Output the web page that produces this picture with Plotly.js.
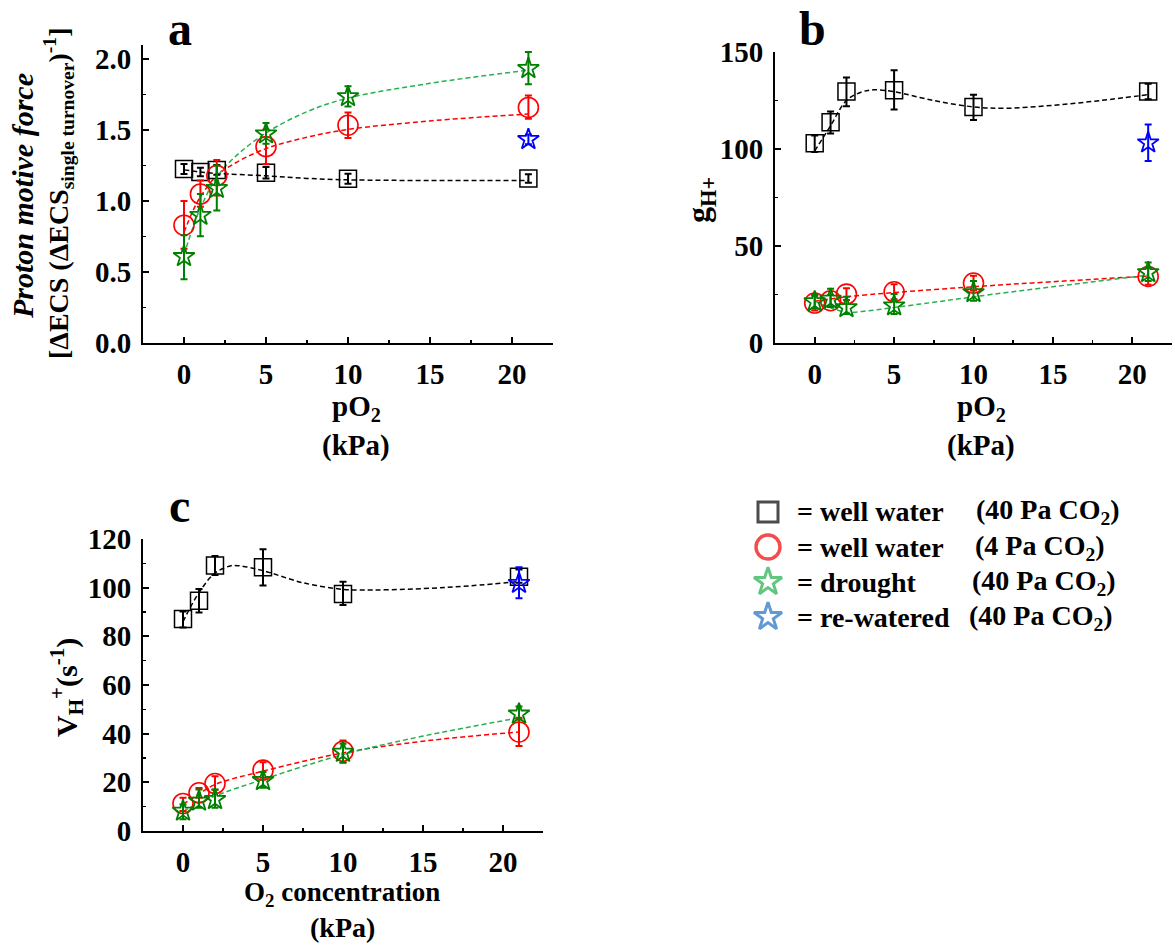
<!DOCTYPE html>
<html><head><meta charset="utf-8">
<script src="https://cdn.plot.ly/plotly-3.0.1.min.js"></script>
<style>html,body{margin:0;padding:0;background:#fff}</style>
</head><body><div id="chart" style="width:1175px;height:945px"></div>
<script>
// ---------- data ----------
const pO2 = [0, 1, 2, 5, 10, 21];
const pO2Rewatered = [21];

// panel a : proton motive force
const a_ww40 = [1.226, 1.205, 1.22, 1.20, 1.158, 1.16];
const a_ww40_ep = [0.035, 0.03, 0.035, 0.04, 0.035, 0.03];
const a_ww40_em = [0.035, 0.03, 0.035, 0.04, 0.035, 0.03];
const a_ww4 = [0.83, 1.05, 1.18, 1.384, 1.535, 1.66];
const a_ww4_ep = [0.17, 0.095, 0.11, 0.12, 0.09, 0.085];
const a_ww4_em = [0.165, 0.09, 0.14, 0.125, 0.09, 0.08];
const a_dr = [0.61, 0.90, 1.09, 1.474, 1.737, 1.935];
const a_dr_ep = [0.15, 0.15, 0.16, 0.076, 0.073, 0.115];
const a_dr_em = [0.16, 0.147, 0.156, 0.07, 0.07, 0.112];
const a_rw = [1.435];
const a_rw_e = [0.035];
// panel a fitted curves
const a_fit_ww40_x = [0, 1, 2, 5, 7.5, 10, 15, 21];
const a_fit_ww40_y = [1.22, 1.205, 1.195, 1.178, 1.16, 1.15, 1.145, 1.145];
const a_fit_ww4_x = [0, 0.5, 1, 2, 3, 5, 7.5, 10, 15, 21];
const a_fit_ww4_y = [0.78, 0.92, 1.03, 1.18, 1.26, 1.37, 1.45, 1.505, 1.565, 1.614];
const a_fit_dr_x = [0, 0.5, 1, 2, 3, 5, 7.5, 10, 15, 21];
const a_fit_dr_y = [0.62, 0.80, 0.95, 1.17, 1.30, 1.48, 1.63, 1.726, 1.83, 1.923];

// panel b : gH+
const b_ww40 = [102.9, 113.8, 129.6, 130.3, 121.7, 129.6];
const b_ww40_ep = [4, 5.5, 7.3, 10.3, 6.3, 4];
const b_ww40_em = [4.5, 5.8, 7.6, 10, 6.8, 4];
const b_ww4 = [20.6, 21.8, 25.2, 26.4, 30.9, 34.3];
const b_ww4_ep = [3.8, 3, 3, 3.9, 3.8, 4.3];
const b_ww4_em = [3.8, 3, 3, 3.9, 3.8, 4.3];
const b_dr = [21.3, 22.6, 18.3, 19.2, 26, 36.3];
const b_dr_ep = [3.5, 5.4, 5.5, 6, 6, 5.2];
const b_dr_em = [3.5, 4, 3.3, 4.2, 4.2, 4.3];
const b_rw = [103.2];
const b_rw_e = [9.4];
const b_fit_ww40_x = [0, 1, 2, 3, 3.7, 5, 7.5, 10, 12, 15, 18, 21];
const b_fit_ww40_y = [99, 112, 125, 129.5, 130.5, 129.5, 125, 121.7, 121, 122.5, 125, 128];
const b_fit_ww4_x = [0, 2, 5, 10, 15, 21];
const b_fit_ww4_y = [21.5, 23.8, 26, 29, 31.6, 34.5];
const b_fit_dr_x = [0, 1, 2, 3, 5, 7.5, 10, 15, 21];
const b_fit_dr_y = [21.5, 18.2, 15.8, 16.3, 18.3, 21, 23.8, 29, 35];

// panel c : vH+
const c_ww40 = [87.1, 94.6, 109.1, 108.4, 97.4, 104.5];
const c_ww40_ep = [3.1, 4.9, 3.9, 7.4, 5, 3];
const c_ww40_em = [3.5, 4.8, 3.9, 7.5, 4.5, 2.5];
const c_ww4 = [11.3, 15.7, 19.5, 25, 32.8, 40.7];
const c_ww4_ep = [2.4, 2, 3, 3.3, 4.4, 5.8];
const c_ww4_em = [3.1, 2, 2.5, 3.1, 4.8, 5.8];
const c_dr = [8.2, 12.3, 13, 20.8, 32.4, 48.1];
const c_dr_ep = [2.7, 4.8, 4.1, 3.4, 3.5, 3.1];
const c_dr_em = [3.4, 2.7, 3.4, 3, 4.1, 2.3];
const c_rw = [101.8];
const c_rw_ep = [6.6];
const c_rw_em = [6.1];
const c_fit_ww40_x = [0, 1, 2, 3, 3.5, 5, 7.5, 10, 11, 15, 18, 21];
const c_fit_ww40_y = [86, 98, 106, 109, 109, 107, 102, 99.3, 99, 99.6, 100.8, 102.5];
const c_fit_ww4_x = [0, 1, 2, 5, 10, 15, 21];
const c_fit_ww4_y = [10.9, 15.2, 19.1, 24.6, 32.1, 36.9, 40.7];
const c_fit_dr_x = [0, 1, 2, 5, 10, 15, 21];
const c_fit_dr_y = [8, 11.5, 14.4, 21.2, 31.4, 39, 46.5];

// axis ticks
const xTicks = [0, 5, 10, 15, 20];
const aTicks = [0, 0.5, 1.0, 1.5, 2.0];
const bTicks = [0, 50, 100, 150];
const cTicks = [0, 20, 40, 60, 80, 100, 120];

// legend
const legendLabels = ['= well water', '= well water', '= drought', '= re-watered'];
const legendConds = ['(40 Pa CO<sub>2</sub>)', '(4 Pa CO<sub>2</sub>)', '(40 Pa CO<sub>2</sub>)', '(40 Pa CO<sub>2</sub>)'];

// ---------- styling ----------
const W = 1175, H = 945;
const FONT = '"Liberation Serif", "Times New Roman", serif';
const BLACK = '#000000', RED = '#ff0000', GREEN = '#008000', GREENLINE = '#28b050', BLUE = '#0000ff';
function dx(p0, p1) { return [p0 / W, p1 / W]; }
function dy(top, bottom) { return [1 - bottom / H, 1 - top / H]; }

const styles = {
  ww40: {symbol: 'square-open', size: 17, color: BLACK, lw: 1.5},
  ww4: {symbol: 'circle-open', size: 20, color: RED, lw: 1.6},
  dr: {symbol: 'star-open', size: 16, color: GREEN, lw: 1.8},
  rw: {symbol: 'star-open', size: 16, color: BLUE, lw: 1.8}
};

function pts(x, y, ep, em, st, xa, ya) {
  return {
    type: 'scatter', mode: 'markers', x: x, y: y, xaxis: xa, yaxis: ya, showlegend: false,
    cliponaxis: false,
    marker: {symbol: st.symbol, size: st.size, color: st.color, line: {color: st.color, width: st.lw}},
    error_y: {type: 'data', symmetric: false, array: ep, arrayminus: em, color: st.color, thickness: 2, width: 3.5}
  };
}
function fit(x, y, color, xa, ya) {
  return {
    type: 'scatter', mode: 'lines', x: x, y: y, xaxis: xa, yaxis: ya, showlegend: false,
    line: {color: color, width: 1.5, dash: '5px,3px', shape: 'spline', smoothing: 1}
  };
}

const traces = [
  fit(a_fit_ww40_x, a_fit_ww40_y, BLACK, 'x', 'y'),
  fit(a_fit_ww4_x, a_fit_ww4_y, RED, 'x', 'y'),
  fit(a_fit_dr_x, a_fit_dr_y, GREENLINE, 'x', 'y'),
  pts(pO2, a_ww40, a_ww40_ep, a_ww40_em, styles.ww40, 'x', 'y'),
  pts(pO2, a_ww4, a_ww4_ep, a_ww4_em, styles.ww4, 'x', 'y'),
  pts(pO2, a_dr, a_dr_ep, a_dr_em, styles.dr, 'x', 'y'),
  pts(pO2Rewatered, a_rw, a_rw_e, a_rw_e, styles.rw, 'x', 'y'),

  fit(b_fit_ww40_x, b_fit_ww40_y, BLACK, 'x2', 'y2'),
  fit(b_fit_ww4_x, b_fit_ww4_y, RED, 'x2', 'y2'),
  fit(b_fit_dr_x, b_fit_dr_y, GREENLINE, 'x2', 'y2'),
  pts(pO2, b_ww40, b_ww40_ep, b_ww40_em, styles.ww40, 'x2', 'y2'),
  pts(pO2, b_ww4, b_ww4_ep, b_ww4_em, styles.ww4, 'x2', 'y2'),
  pts(pO2, b_dr, b_dr_ep, b_dr_em, styles.dr, 'x2', 'y2'),
  pts(pO2Rewatered, b_rw, b_rw_e, b_rw_e, styles.rw, 'x2', 'y2'),

  fit(c_fit_ww40_x, c_fit_ww40_y, BLACK, 'x3', 'y3'),
  fit(c_fit_ww4_x, c_fit_ww4_y, RED, 'x3', 'y3'),
  fit(c_fit_dr_x, c_fit_dr_y, GREENLINE, 'x3', 'y3'),
  pts(pO2, c_ww40, c_ww40_ep, c_ww40_em, styles.ww40, 'x3', 'y3'),
  pts(pO2, c_ww4, c_ww4_ep, c_ww4_em, styles.ww4, 'x3', 'y3'),
  pts(pO2, c_dr, c_dr_ep, c_dr_em, styles.dr, 'x3', 'y3'),
  pts(pO2Rewatered, c_rw, c_rw_ep, c_rw_em, styles.rw, 'x3', 'y3'),

  // legend symbols
  {
    type: 'scatter', mode: 'markers', xaxis: 'x4', yaxis: 'y4', showlegend: false, cliponaxis: false,
    x: legendLabels.map(() => 0), y: legendLabels.map((_, i) => i),
    marker: {
      symbol: ['square-open', 'circle-open', 'star-open', 'star-open'],
      size: [20, 24, 21, 21],
      color: ['#000000', '#f00000', '#1fae4c', '#1e6fc0'],
      line: {width: [3, 3.4, 3, 3], color: ['#000000', '#f00000', '#1fae4c', '#1e6fc0']}
    }
  }
];

const tickFont = {family: FONT, size: 29, color: '#000', weight: 'bold'};
function xAxis(domain, anchor) {
  return {
    domain: domain, anchor: anchor, range: [-2.5, 22.5], tickvals: xTicks, ticktext: xTicks.map(String),
    showgrid: false, zeroline: false, showline: true, linecolor: '#000', linewidth: 2,
    ticks: 'inside', ticklen: 6, tickwidth: 2, tickcolor: '#000', tickfont: tickFont, ticklabelstandoff: 4,
    minor: {dtick: 2.5, tick0: 0, ticks: 'inside', ticklen: 3, tickwidth: 1.5, tickcolor: '#000', showgrid: false}
  };
}
function yAxis(domain, anchor, range, tickvals, fmt, minorStep) {
  return {
    domain: domain, anchor: anchor, range: range, tickvals: tickvals,
    ticktext: tickvals.map(v => fmt ? v.toFixed(1) : String(v)),
    showgrid: false, zeroline: false, showline: true, linecolor: '#000', linewidth: 2,
    ticks: 'inside', ticklen: 6, tickwidth: 2, tickcolor: '#000', tickfont: tickFont, ticklabelstandoff: 4,
    minor: {dtick: minorStep, tick0: 0, ticks: 'inside', ticklen: 3, tickwidth: 1.5, tickcolor: '#000', showgrid: false}
  };
}

function ann(text, px, py, size, opts) {
  return Object.assign({
    text: text, xref: 'paper', yref: 'paper', x: px / W, y: 1 - py / H,
    xanchor: 'center', yanchor: 'middle', showarrow: false,
    font: {family: FONT, size: size, color: '#000', weight: 'bold'}
  }, opts || {});
}

const annotations = [
  ann('a', 180, 29, 48),
  ann('b', 812, 29, 48),
  ann('c', 179, 506, 48),
  ann('pO<sub>2</sub>', 356, 408, 29),
  ann('(kPa)', 356, 445, 29),
  ann('pO<sub>2</sub>', 981, 408, 29),
  ann('(kPa)', 981, 445, 29),
  ann('O<sub>2</sub> concentration', 342, 894, 27),
  ann('(kPa)', 342, 927, 28),
  ann('<i>Proton motive force</i>', 23, 196, 30, {textangle: -90}),
  ann('[ΔECS (ΔECS<sub>single turnover</sub>)<sup>-1</sup>]', 59, 193, 28, {textangle: -90}),
  ann('g<sub>H+</sub>', 700, 200, 32, {textangle: -90}),
  ann('V<sub>H</sub><sup>+</sup>(s<sup>-1</sup>)', 66, 688, 30, {textangle: -90})
];
legendLabels.forEach((lab, i) => {
  annotations.push({text: lab, xref: 'paper', yref: 'y4', x: 795 / W, y: i, xanchor: 'left', yanchor: 'middle',
    showarrow: false, font: {family: FONT, size: 28, color: '#000', weight: 'bold'}});
});
const condX = [974, 973, 970, 967];
legendConds.forEach((lab, i) => {
  annotations.push({text: lab, xref: 'paper', yref: 'y4', x: condX[i] / W, y: i, xanchor: 'left', yanchor: 'middle',
    showarrow: false, font: {family: FONT, size: 28, color: '#000', weight: 'bold'}});
});

const layout = {
  width: W, height: H, autosize: false, margin: {l: 0, r: 0, t: 0, b: 0},
  paper_bgcolor: '#fff', plot_bgcolor: 'rgba(0,0,0,0)', showlegend: false,
  font: {family: FONT, color: '#000'},
  xaxis: xAxis(dx(143, 553), 'y'),
  yaxis: yAxis(dy(45, 343), 'x', [0, 2.1], aTicks, true, 0.25),
  xaxis2: xAxis(dx(775, 1172), 'y2'),
  yaxis2: yAxis(dy(52, 343), 'x2', [0, 150], bTicks, false, 25),
  xaxis3: xAxis(dx(143, 543), 'y3'),
  yaxis3: yAxis(dy(539, 831), 'x3', [0, 120], cTicks, false, 10),
  xaxis4: {domain: dx(756, 780), anchor: 'y4', range: [-1, 1], visible: false, fixedrange: true},
  yaxis4: {domain: dy(494.5, 634.5), anchor: 'x4', range: [3.5, -0.5], visible: false, fixedrange: true},
  annotations: annotations
};

Plotly.newPlot('chart', traces, layout, {displayModeBar: false, staticPlot: true});
</script>
</body></html>
